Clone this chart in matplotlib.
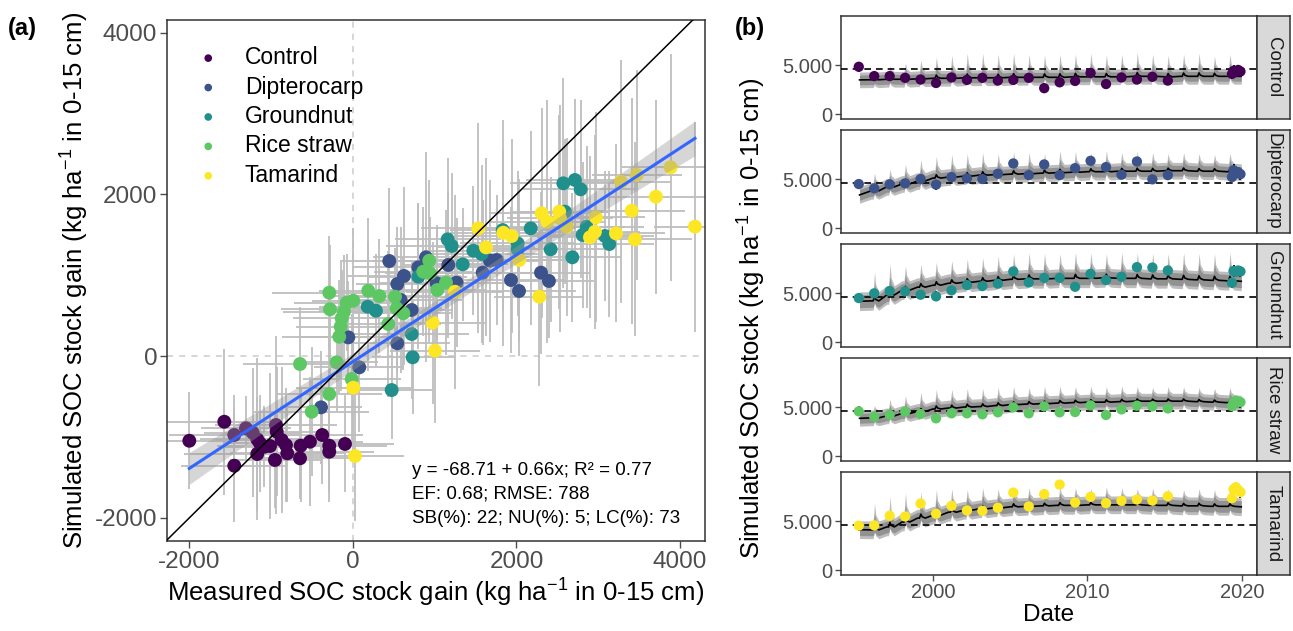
import numpy as np
import matplotlib
matplotlib.use('agg')
import matplotlib.pyplot as plt
from matplotlib.ticker import FuncFormatter

plt.rcParams['font.family'] = ['Liberation Sans', 'DejaVu Sans']
plt.rcParams['mathtext.fontset'] = 'custom'
plt.rcParams['mathtext.rm'] = 'Liberation Sans'
plt.rcParams['mathtext.it'] = 'Liberation Sans:italic'
plt.rcParams['axes.unicode_minus'] = False

treatments = ['Control', 'Dipterocarp', 'Groundnut', 'Rice straw', 'Tamarind']
colors = ['#440154', '#3B528B', '#21908C', '#5DC863', '#FDE725']

# ---- panel (a): measured vs simulated SOC stock gain ----
control_x = [-2002, -1574, -1452, -1452, -1309, -1227, -1171, -1138, -1171, -1085, -1015, -942,
             -933, -954, -872, -820, -804, -648, -640, -526, -376, -290, -290, -98]
control_y = [-1048, -813, -1357, -977, -894, -949, -1030, -1080, -1212, -1122, -1113, -853,
             -936, -1286, -1039, -1101, -1204, -1265, -1109, -1060, -977, -1109, -1184, -1088]
control_xe = [500, 700, 650, 800, 550, 600, 700, 450, 900, 500, 650, 750,
              600, 550, 800, 500, 700, 600, 450, 650, 500, 700, 550, 600]
control_ye = [600, 900, 700, 500, 400, 800, 1000, 600, 700, 500, 900, 1100,
              800, 600, 900, 700, 600, 500, 700, 800, 600, 700, 500, 600]

dipt_x = [444, 542, 624, 799, 893, 1166, 1024, 1268, 718, 583, -57, 542, 77, 1586, 1676, 1758,
          -391, 1933, 2031, 2300, 2397]
dipt_y = [1175, 891, 990, 1097, 1220, 1126, 899, 907, 569, 693, 231, 157, -140, 1031, 1179, 1187,
          -635, 940, 804, 1031, 928]
dipt_xe = [600, 500, 700, 800, 650, 550, 700, 600, 500, 750, 600, 650, 550, 700, 600, 800,
           500, 650, 700, 600, 550]
dipt_ye = [900, 700, 1100, 800, 1300, 900, 700, 800, 600, 900, 700, 600, 800, 900, 1000, 800,
           700, 900, 800, 1000, 700]

ground_x = [180, 281, 473, 1158, 1207, 1472, 1574, 1342, 799, 718, 730, 1831, 2015, 2015, 2174,
            2418, 2573, 2715, 2785, 2593, 2683, 2858, 2809, 3082, 3135]
ground_y = [610, 560, -421, 1443, 1361, 1303, 1262, 1134, 981, 272, -16, 1558, 1393, 1320, 1579,
            1320, 2136, 2177, 2062, 1785, 1221, 1600, 1497, 1484, 1385]
ground_xe = [600, 700, 500, 650, 800, 600, 700, 550, 600, 700, 500, 650, 700, 600, 550,
             700, 650, 600, 700, 550, 600, 700, 650, 600, 550]
ground_ye = [800, 700, 600, 1000, 900, 800, 1100, 700, 900, 800, 700, 1000, 900, 800, 1200,
             900, 1300, 1000, 1100, 900, 800, 1000, 900, 800, 900]

rice_x = [-290, -281, -77, 4, -110, -138, -150, -168, 187, 322, 514, 534, 616, 432, 933, 860, 942,
          1138, 1031, -648, -200, -16, -290, -505]
rice_y = [783, 578, 659, 684, 548, 466, 363, 239, 808, 742, 734, 590, 528, 396, 1179, 1043, 1023,
          907, 816, -99, -78, -284, -470, -689]
rice_xe = [700, 600, 650, 500, 750, 600, 550, 700, 600, 650, 700, 550, 600, 650, 700, 600, 550,
           650, 600, 700, 500, 600, 650, 700]
rice_ye = [700, 800, 600, 900, 700, 600, 800, 700, 900, 700, 600, 800, 700, 900, 1000, 800, 700,
           900, 800, 700, 600, 800, 700, 800]

tam_x = [4, 24, 1248, 975, 1003, 1533, 1627, 1839, 1941, 2034, 2279, 2308, 2377, 2523, 2532, 2614,
         2972, 2899, 2960, 3217, 3409, 3449, 3278, 3470, 3706, 3886, 4183]
tam_y = [-392, -1237, 795, 412, 66, 1579, 1344, 1525, 1484, 1187, 733, 1765, 1661, 1785, 1703, 1600,
         1715, 1468, 1537, 1517, 1797, 1443, 2156, 2239, 1970, 2334, 1600]
tam_xe = [700, 600, 600, 650, 550, 700, 600, 650, 700, 600, 550, 650, 700, 600, 650, 700,
          600, 650, 550, 600, 650, 700, 600, 550, 650, 600, 500]
tam_ye = [900, 800, 1200, 1000, 900, 1300, 1100, 1400, 1200, 1000, 1100, 1300, 1500, 1200, 1400,
          1100, 1300, 1000, 1200, 1100, 1400, 1200, 1500, 1300, 1200, 1400, 1300]

fit_intercept = -68.71
fit_slope = 0.66

# ---- panel (b): time series ----
anchor_t = [1995.25] + list(range(1996, 2021))
meas_t = [1995.2 + k for k in range(21)] + [2019.35, 2019.45, 2019.6, 2019.75, 2019.9]
initial_soc = 4600

sim_level = {
    'Control': [3486, 3500, 3550, 3550, 3600, 3650, 3650, 3700, 3700, 3700, 3750, 3750, 3750,
                3750, 3800, 3800, 3800, 3800, 3850, 3850, 3800, 3850, 3850, 3850, 3850, 3850],
    'Dipterocarp': [3380, 3800, 4200, 4500, 4800, 5100, 5200, 5300, 5400, 5450, 5500, 5550, 5600,
                    5650, 5700, 5750, 5750, 5800, 5800, 5800, 5850, 5850, 5800, 5800, 5750, 5700],
    'Groundnut': [4160, 4200, 4800, 5300, 5600, 5800, 6000, 6100, 6200, 6300, 6400, 6450, 6450,
                  6500, 6500, 6500, 6550, 6500, 6500, 6450, 6450, 6400, 6350, 6300, 6250, 6200],
    'Rice straw': [3850, 3900, 4100, 4350, 4550, 4800, 4900, 5000, 5050, 5150, 5250, 5300, 5350,
                   5400, 5450, 5500, 5500, 5550, 5600, 5600, 5600, 5600, 5550, 5500, 5450, 5400],
    'Tamarind': [4120, 4100, 4400, 4900, 5300, 5600, 5900, 6100, 6250, 6350, 6450, 6500, 6550,
                 6600, 6600, 6650, 6650, 6650, 6650, 6600, 6600, 6550, 6550, 6500, 6500, 6450],
}
sim_peak = {
    'Control': [4500, 4900, 5200, 5500, 5800, 6000, 6200, 6200, 6100, 6200, 6100, 6000, 6100,
                6100, 6200, 6000, 6100, 6300, 6100, 6000, 6100, 6200, 5900, 6100],
    'Dipterocarp': [5600, 6000, 6500, 7000, 7300, 7500, 7600, 7700, 7600, 7800, 7700, 7600, 7900,
                    7800, 7700, 7900, 7700, 7800, 7700, 7600, 7700, 7600, 7500, 7600],
    'Groundnut': [7130, 7970, 7800, 7950, 8140, 8300, 8480, 8600, 8750, 8990, 9100, 9050, 9000,
                  9150, 9100, 9000, 9150, 9100, 9050, 9000, 9100, 9050, 9000, 9160],
    'Rice straw': [5140, 5800, 6150, 6500, 6800, 6800, 6900, 6900, 7000, 7100, 7000, 7100, 7150,
                   7100, 7150, 7100, 7150, 7100, 7000, 7100, 7050, 7000, 6900, 7000],
    'Tamarind': [6800, 7500, 7840, 8000, 8200, 8300, 8200, 8400, 8300, 8500, 8400, 8300, 8500,
                 8400, 8300, 8500, 8400, 8300, 8400, 8300, 8200, 8300, 8200, 8300],
}
sim_dark_half = {'Control': 500, 'Dipterocarp': 550, 'Groundnut': 650, 'Rice straw': 500, 'Tamarind': 600}
sim_light_half = {'Control': 800, 'Dipterocarp': 850, 'Groundnut': 950, 'Rice straw': 800, 'Tamarind': 900}

meas_val = {
    'Control': [4824, 3873, 3873, 3697, 3521, 3169, 3732, 3486, 3697, 3415, 3486, 3697, 2641,
                3239, 3380, 4190, 3063, 3732, 3521, 3803, 3415, 4100, 4400, 4300, 4500, 4350],
    'Dipterocarp': [4490, 4050, 4460, 4560, 5000, 4430, 5200, 5070, 5000, 5540, 6590, 5400, 6490,
                    5400, 6110, 6860, 6220, 5440, 6790, 4970, 5400, 5200, 5900, 5600, 5700, 5500],
    'Groundnut': [4490, 4970, 5200, 5170, 4830, 4660, 5270, 5810, 5710, 5950, 7200, 6080, 6550,
                  6550, 5640, 6960, 6320, 6660, 7640, 7600, 7300, 6050, 7250, 7150, 7300, 7200],
    'Rice straw': [4560, 4020, 4220, 4530, 4290, 3850, 4360, 4360, 4260, 4460, 4970, 4360, 5070,
                   4460, 4490, 5170, 4190, 4760, 5140, 5070, 4860, 5100, 5470, 5640, 5540, 5500],
    'Tamarind': [4530, 4560, 5540, 5470, 6790, 5740, 6550, 6080, 6050, 6350, 7900, 6490, 7740,
                 8720, 6890, 7470, 6830, 7060, 7200, 7090, 7530, 7330, 8240, 8450, 8180, 7950],
}
meas_err = [500, 450, 400, 350, 400, 500, 350, 400, 300, 350, 450, 350, 500,
            400, 350, 450, 500, 400, 450, 350, 400, 500, 600, 450, 500, 550]


def sim_series(levels, peaks, light, dark):
    # spike shortly after each yearly sampling date, built from read levels and peaks
    t, mid, lo1, hi1, lo2, hi2 = [], [], [], [], [], []
    offs = [0.0, 0.13, 0.22, 0.3, 0.5]
    fr = [0.0, 0.0, 1.0, 0.35, 0.0]
    for i in range(len(levels) - 1):
        a = anchor_t[i]
        L = levels[i]
        if i == 0:
            pts = [(0.0, 0.0)]
            P = L
        else:
            pts = list(zip(offs, fr))
            P = peaks[i - 1]
        for o, f in pts:
            t.append(a + o)
            mid.append(L + 0.15 * f * (P - L))
            hi1.append(L + light + f * (P - L - light))
            lo1.append(L - light + 0.3 * f * (P - L))
            hi2.append(L + dark + 0.5 * f * (P - L - dark))
            lo2.append(L - dark + 0.15 * f * (P - L))
    t.append(2019.95)
    L = levels[-1]
    mid.append(L); hi1.append(L + light); lo1.append(L - light)
    hi2.append(L + dark); lo2.append(L - dark)
    return [np.array(v) for v in (t, mid, lo1, hi1, lo2, hi2)]


W, H = 1293, 631
fig = plt.figure(figsize=(W / 100, H / 100), dpi=100)

tick_col = '#4D4D4D'
spine_col = '#333333'

# panel (a)
ax = fig.add_axes([167 / W, 1 - 541 / H, 538 / W, 521 / H])
ax.axhline(0, color='#CCCCCC', ls=(0, (4, 4)), lw=1.1, zorder=0)
ax.axvline(0, color='#CCCCCC', ls=(0, (4, 4)), lw=1.1, zorder=0)

groups = [
    (control_x, control_y, control_xe, control_ye),
    (dipt_x, dipt_y, dipt_xe, dipt_ye),
    (ground_x, ground_y, ground_xe, ground_ye),
    (rice_x, rice_y, rice_xe, rice_ye),
    (tam_x, tam_y, tam_xe, tam_ye),
]
for (gx, gy, gxe, gye) in groups:
    ax.errorbar(gx, gy, xerr=gxe, yerr=gye, fmt='none', ecolor='#BEBEBE', elinewidth=1.3,
                capsize=0, zorder=1)
for (gx, gy, gxe, gye), name, c in zip(groups, treatments, colors):
    ax.scatter(gx, gy, s=100, color=c, edgecolors='none', zorder=2, label=name)

# regression line with confidence band
all_x = np.concatenate([np.array(g[0], float) for g in groups])
all_y = np.concatenate([np.array(g[1], float) for g in groups])
n = len(all_x)
resid = all_y - (fit_intercept + fit_slope * all_x)
s = np.sqrt(np.sum(resid ** 2) / (n - 2))
xm = all_x.mean()
sxx = np.sum((all_x - xm) ** 2)
xs = np.linspace(all_x.min(), all_x.max(), 100)
ys = fit_intercept + fit_slope * xs
se = 1.98 * s * np.sqrt(1 / n + (xs - xm) ** 2 / sxx)
ax.fill_between(xs, ys - se, ys + se, color='#999999', alpha=0.4, lw=0, zorder=3)
ax.plot(xs, ys, color='#3366FF', lw=2.2, zorder=4)
ax.plot([-3000, 5000], [-3000, 5000], color='black', lw=1.1, zorder=5)

ax.set_xlim(-2275, 4306)
ax.set_ylim(-2288, 4156)
ax.set_xticks([-2000, 0, 2000, 4000])
ax.set_yticks([-2000, 0, 2000, 4000])
ax.tick_params(labelsize=17.5, colors=tick_col, length=5, width=1, pad=2)
for sp in ax.spines.values():
    sp.set_color(spine_col)
    sp.set_linewidth(1.1)
ax.set_xlabel('Measured SOC stock gain (kg ha$^{-1}$ in 0-15 cm)', fontsize=18.5, labelpad=3)
ax.set_ylabel('Simulated SOC stock gain (kg ha$^{-1}$ in 0-15 cm)', fontsize=18.5, labelpad=3)

leg = ax.legend(loc='upper left', bbox_to_anchor=(0.0, 0.985), frameon=False, fontsize=16.5,
                markerscale=0.55, handletextpad=0.6, labelspacing=0.28, borderaxespad=0.4)

ax.text(0.455, 0.136, 'y = -68.71 + 0.66x; R² = 0.77', transform=ax.transAxes, fontsize=13.5,
        va='center')
ax.text(0.455, 0.090, 'EF: 0.68; RMSE: 788', transform=ax.transAxes, fontsize=13.5, va='center')
ax.text(0.455, 0.044, 'SB(%): 22; NU(%): 5; LC(%): 73', transform=ax.transAxes, fontsize=13.5,
        va='center')

fig.text(8 / W, 1 - 28 / H, '(a)', fontsize=17, fontweight='bold', va='center')
fig.text(735 / W, 1 - 28 / H, '(b)', fontsize=17, fontweight='bold', va='center')

# panel (b)
left, right = 841, 1257
strip_w = 33
for i, (name, c) in enumerate(zip(treatments, colors)):
    top = 16 + i * 114
    h = 103
    bx = fig.add_axes([left / W, 1 - (top + h) / H, (right - left) / W, h / H])
    t, mid, lo1, hi1, lo2, hi2 = sim_series(sim_level[name], sim_peak[name],
                                            sim_light_half[name], sim_dark_half[name])
    bx.fill_between(t, lo1, hi1, color='#BDBDBD', lw=0, zorder=1)
    bx.fill_between(t, lo2, hi2, color='#929292', lw=0, zorder=2)
    bx.axhline(initial_soc, color='black', ls=(0, (4, 3)), lw=1.2, zorder=3)
    bx.plot(t, mid, color='black', lw=1.2, zorder=4)
    bx.errorbar(meas_t, meas_val[name], yerr=meas_err, fmt='none', ecolor='black',
                elinewidth=1.3, capsize=0, zorder=5)
    bx.scatter(meas_t, meas_val[name], s=55, color=c, edgecolors='none', zorder=6)
    bx.set_xlim(1994.05, 2020.97)
    bx.set_ylim(-500, 10000)
    bx.set_yticks([0, 5000])
    bx.yaxis.set_major_formatter(FuncFormatter(lambda v, p: '5.000' if v == 5000 else '0'))
    bx.set_xticks([2000, 2010, 2020])
    bx.tick_params(labelsize=14.5, colors=tick_col, length=4, width=1, pad=2)
    for sp in bx.spines.values():
        sp.set_color(spine_col)
        sp.set_linewidth(1.1)
    if i < 4:
        bx.tick_params(axis='x', labelbottom=False, length=0)
    else:
        bx.set_xlabel('Date', fontsize=17.5, labelpad=1)

    st = fig.add_axes([right / W, 1 - (top + h) / H, strip_w / W, h / H])
    st.set_facecolor('#D9D9D9')
    st.set_xticks([])
    st.set_yticks([])
    for sp in st.spines.values():
        sp.set_color(spine_col)
        sp.set_linewidth(1.1)
    st.text(0.5, 0.5, name, rotation=-90, ha='center', va='center', fontsize=13.5,
            color='#1A1A1A', transform=st.transAxes)

fig.text(752 / W, 1 - 318 / H, 'Simulated SOC stock (kg ha$^{-1}$ in 0-15 cm)', rotation=90,
         fontsize=18.5, ha='center', va='center')

fig.savefig('out.png', dpi=100)
